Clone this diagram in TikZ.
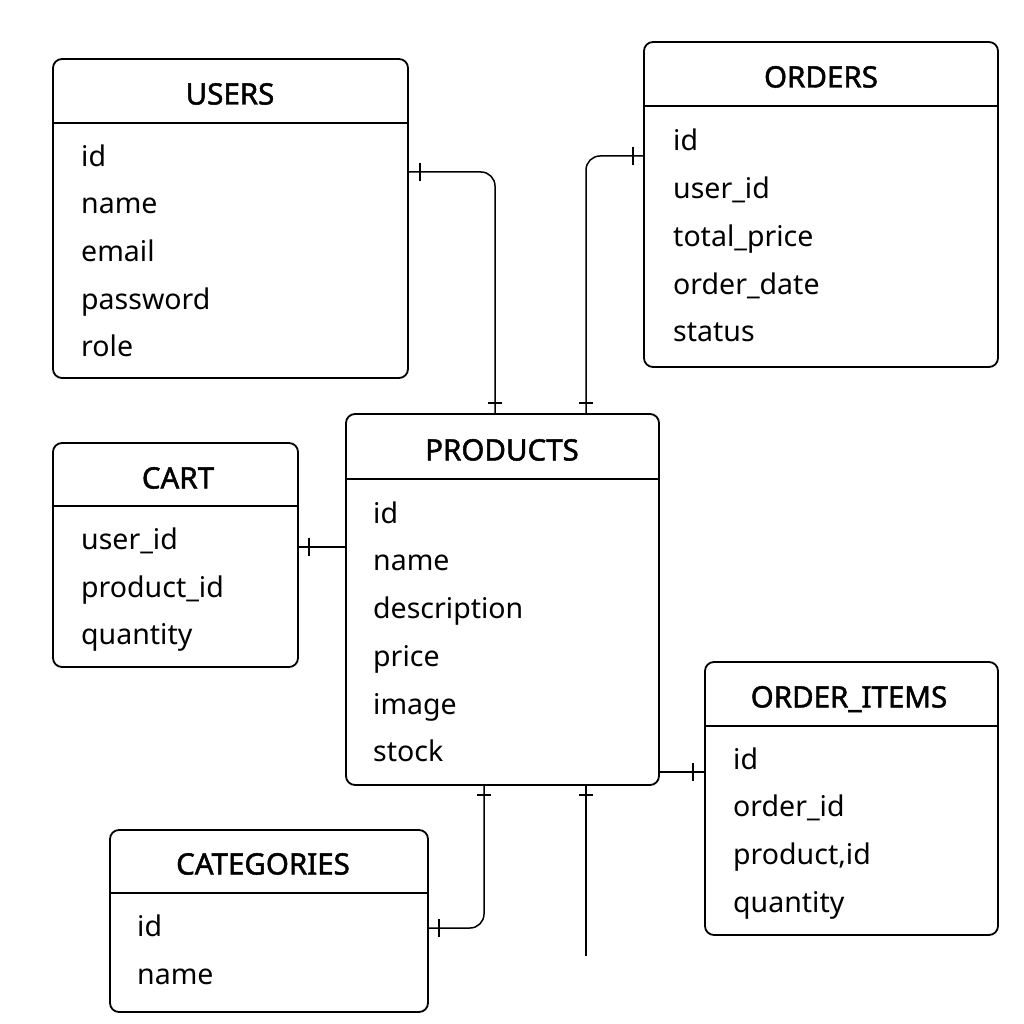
\documentclass[tikz,border=0pt]{standalone}
\usepackage{fontspec}
\setmainfont{Noto Sans}[AutoFakeBold=1.6]
\begin{document}
\begin{tikzpicture}[x=1pt,y=-1pt,
  tbl/.style={draw, line width=1.8, rounded corners=9, inner sep=0},
  hdr/.style={line width=1.6},
  ttl/.style={font=\fontsize{29.5}{32}\selectfont\bfseries, text height=21, text depth=0, inner sep=0},
  fld/.style={anchor=west, font=\fontsize{28.5}{32}\selectfont, text height=21, text depth=6, inner sep=0},
  conn/.style={line width=1.5, rounded corners=14},
  tick/.style={line width=1.5}]
\useasboundingbox[fill=white] (0,0) rectangle (1024,1024);
% boxes
\node[tbl, minimum width=355, minimum height=319] (users) at (230.5,218.5) {};
\node[tbl, minimum width=354, minimum height=325] (orders) at (821,204.5) {};
\node[tbl, minimum width=313, minimum height=371] (products) at (502.5,599.5) {};
\node[tbl, minimum width=245, minimum height=224] (cart) at (175.5,555) {};
\node[tbl, minimum width=293, minimum height=273] (orderitems) at (851.5,798.5) {};
\node[tbl, minimum width=318, minimum height=182] (categories) at (269,921) {};
% header lines
\draw[hdr] (users.west |- 0,123) -- (users.east |- 0,123);
\draw[hdr] (orders.west |- 0,106) -- (orders.east |- 0,106);
\draw[hdr] (products.west |- 0,479) -- (products.east |- 0,479);
\draw[hdr] (cart.west |- 0,506) -- (cart.east |- 0,506);
\draw[hdr] (orderitems.west |- 0,726) -- (orderitems.east |- 0,726);
\draw[hdr] (categories.west |- 0,893) -- (categories.east |- 0,893);
% titles
\node[ttl] (tu) at (230,94) {USERS};
\node[ttl] (to) at (821,77) {ORDERS};
\node[ttl] (tp) at (502,450) {PRODUCTS};
\node[ttl] (tc) at (178,478) {CART};
\node[ttl] (toi) at (849,697) {ORDER\_ITEMS};
\node[ttl] (tcat) at (263,864) {CATEGORIES};
% fields
\node[fld] (u1) at (81,159) {id};
\node[fld] (u2) at (81,206) {name};
\node[fld] (u3) at (81,254) {email};
\node[fld] (u4) at (81,302) {password};
\node[fld] (u5) at (81,349) {role};
\node[fld] (o1) at (673,143) {id};
\node[fld] (o2) at (673,191) {user\_id};
\node[fld] (o3) at (673,239) {total\_price};
\node[fld] (o4) at (673,287) {order\_date};
\node[fld] (o5) at (673,334) {status};
\node[fld] (p1) at (373,516) {id};
\node[fld] (p2) at (373,563) {name};
\node[fld] (p3) at (373,611) {description};
\node[fld] (p4) at (373,659) {price};
\node[fld] (p5) at (373,707) {image};
\node[fld] (p6) at (373,754) {stock};
\node[fld] (c1) at (81,542) {user\_id};
\node[fld] (c2) at (81,590) {product\_id};
\node[fld] (c3) at (81,637) {quantity};
\node[fld] (i1) at (733,762) {id};
\node[fld] (i2) at (733,809) {order\_id};
\node[fld] (i3) at (733,857) {product,id};
\node[fld] (i4) at (733,905) {quantity};
\node[fld] (k1) at (137,929) {id};
\node[fld] (k2) at (137,977) {name};
% connectors
\draw[conn] (users.east |- 0,172) -| (products.north -| 495,0);
\draw[tick] (420,163) -- (420,181);
\draw[tick] (488,403) -- (502,403);
\draw[conn] (orders.west |- 0,156) -| (products.north -| 586,0);
\draw[tick] (633,147) -- (633,165);
\draw[tick] (579,403) -- (593,403);
\draw[conn] (cart.east |- 0,547) -- (products.west |- 0,547);
\draw[tick] (309,538) -- (309,556);
\draw[conn] (products.east |- 0,772) -- (orderitems.west |- 0,772);
\draw[tick] (693,763) -- (693,781);
\draw[conn] (products.south -| 484,0) |- (categories.east |- 0,928);
\draw[tick] (477,795) -- (491,795);
\draw[tick] (439,919) -- (439,937);
\coordinate (free) at (586,956);
\draw[conn] (products.south -| 586,0) -- (free);
\draw[tick] (579,795) -- (593,795);
\end{tikzpicture}
\end{document}
